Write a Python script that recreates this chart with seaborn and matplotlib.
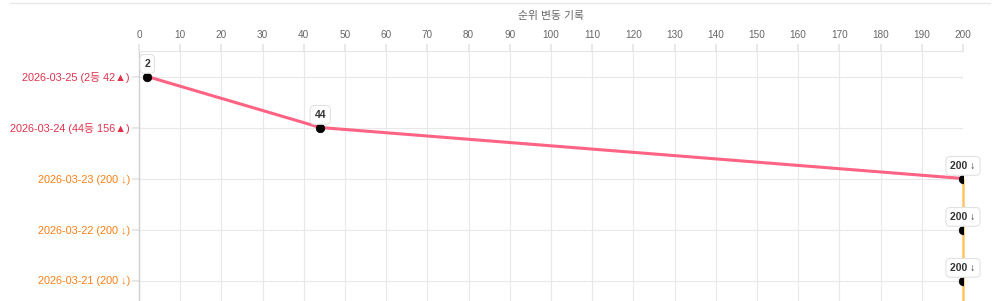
import matplotlib
matplotlib.use("Agg")
import matplotlib.pyplot as plt
import seaborn as sns
import pandas as pd
from matplotlib.lines import Line2D

dates = ['2026-03-25', '2026-03-24', '2026-03-23', '2026-03-22', '2026-03-21', '2026-03-20']
ranks = [2, 44, 200, 200, 200, 200]
y_labels = ['2026-03-25 (2등 42▲)', '2026-03-24 (44등 156▲)', '2026-03-23 (200 ↓)',
            '2026-03-22 (200 ↓)', '2026-03-21 (200 ↓)']
point_labels = ['2', '44', '200 ↓', '200 ↓', '200 ↓']
label_colors = ['#e0314b', '#e0314b', '#fd7e14', '#fd7e14', '#fd7e14']
x_ticks = list(range(0, 201, 10))
x_title = '순위 변동 기록'

sns.set_theme(style='white')
plt.rcParams['font.family'] = ['Liberation Sans', 'Noto Sans CJK KR', 'DejaVu Sans']

df = pd.DataFrame({'date': dates, 'rank': ranks, 'pos': range(len(dates))})

W, H = 994, 301
fig = plt.figure(figsize=(W / 100, H / 100), dpi=100)
left_px, right_px, top_px = 139, 963, 51
span = 51 * len(dates)
ax = fig.add_axes([left_px / W, 1 - (top_px + span) / H, (right_px - left_px) / W, span / H])

first_out = df[df['rank'] >= 200].index.min()
pink = df.loc[:first_out]
orange = df.loc[first_out:]
sns.lineplot(data=pink, x='rank', y='pos', orient='y', sort=False, color='#ff6384',
             linewidth=2.2, ax=ax, zorder=3)
n_before = len(ax.lines)
sns.lineplot(data=orange, x='rank', y='pos', orient='y', sort=False, color='#ffc562',
             linewidth=1.8, ax=ax, zorder=3)
for ln in ax.lines[n_before:]:
    ln.set_clip_on(False)
sns.scatterplot(data=df, x='rank', y='pos', color='black', s=38, edgecolor='black',
                linewidth=0.5, ax=ax, zorder=4)
for coll in ax.collections:
    coll.set_clip_on(True)
    coll.set_clip_box(ax.bbox)

for r, p, t in zip(ranks, df['pos'], point_labels):
    ax.annotate(t, (r, p), xytext=(0, 5.5), textcoords='offset points', ha='center',
                va='bottom', fontsize=7.5, fontweight='bold', color='#333333',
                bbox=dict(boxstyle='round,pad=0.42', fc='white', ec='#e2e2e2', lw=0.8),
                zorder=6, annotation_clip=False)

ax.set_xlim(0, 200)
ax.set_ylim(len(dates) - 0.5, -0.5)
ax.set_xticks(x_ticks)
ax.set_yticks(list(range(len(y_labels))))
ax.set_yticklabels(y_labels)
for lbl, c in zip(ax.get_yticklabels(), label_colors):
    lbl.set_color(c)
    lbl.set_fontsize(7.8)
ax.xaxis.tick_top()
ax.xaxis.set_label_position('top')
ax.set_xlabel(x_title, fontsize=7.8, color='#666666', labelpad=8)
ax.set_ylabel('')
ax.tick_params(axis='x', top=True, bottom=False, length=5, color='#e5e5e5',
               labelsize=7.2, labelcolor='#666666', pad=3)
ax.tick_params(axis='y', left=True, length=5, color='#e5e5e5', pad=1.5)
ax.grid(True, color='#e8e8e8', linewidth=0.8)
ax.set_yticks([5], minor=True)
ax.grid(True, which='minor', axis='y', color='#e8e8e8', linewidth=0.8)
for s in ['right', 'bottom']:
    ax.spines[s].set_visible(False)
ax.spines['top'].set_color('#e5e5e5')
ax.spines['top'].set_linewidth(0.8)
ax.spines['left'].set_color('#d0d0d0')
ax.spines['left'].set_linewidth(1.0)

fig.add_artist(Line2D([10 / W, 990 / W], [1 - 3 / H, 1 - 3 / H], color='#e8e8e8',
                      linewidth=1, transform=fig.transFigure))

fig.savefig('out.png', dpi=100)
